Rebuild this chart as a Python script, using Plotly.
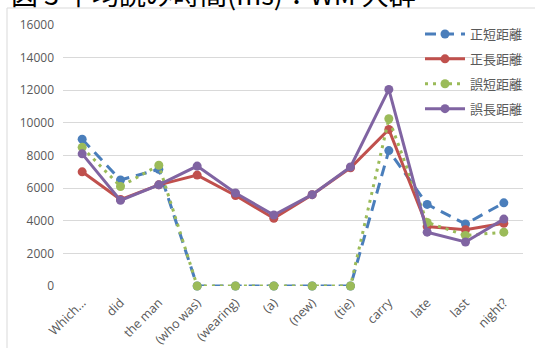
import plotly.graph_objects as go

# Reading-time data (ms) per sentence region
categories = ["Which...", "did", "the man", "(who was)", "(wearing)", "(a)",
              "(new)", "(tie)", "carry", "late", "last", "night?"]
short_correct = [9000, 6500, 7150, 0, 0, 0, 0, 0, 8300, 5000, 3800, 5100]
long_correct = [7000, 5300, 6200, 6800, 5550, 4150, 5600, 7250, 9600, 3650, 3450, 3850]
short_error = [8500, 6100, 7400, 0, 0, 0, 0, 0, 10250, 3900, 3100, 3300]
long_error = [8100, 5250, 6200, 7350, 5700, 4350, 5600, 7300, 12050, 3300, 2700, 4100]

series_names = ["正短距離", "正長距離", "誤短距離", "誤長距離"]
series_values = [short_correct, long_correct, short_error, long_error]
series_colors = ["#4a7ebb", "#c0504d", "#9bbb59", "#8064a2"]
series_dash = ["11px,7px", "solid", "3px,5px", "solid"]

W, H = 535, 348
ML, MR, MT, MB = 63, 12, 25, 62
PW, PH = W - ML - MR, H - MT - MB


def px_x(p):
    return (p - ML) / PW


def px_y(p):
    return (H - MB - p) / PH


fig = go.Figure()
for i, (name, vals, col, dash) in enumerate(zip(series_names, series_values,
                                                 series_colors, series_dash)):
    fig.add_trace(go.Scatter(
        x=categories, y=vals, name=name, mode="lines+markers",
        line=dict(color=col, width=3, dash=dash),
        marker=dict(color=col, size=9, symbol="circle"),
        cliponaxis=False, legendgroup=f"g{i}",
    ))

fig.update_layout(
    width=W, height=H,
    margin=dict(l=ML, r=MR, t=MT, b=MB, autoexpand=False),
    paper_bgcolor="white", plot_bgcolor="white",
    showlegend=True,
    legend=dict(
        x=px_x(420), y=px_y(19), xanchor="left", yanchor="top",
        bgcolor="rgba(0,0,0,0)", traceorder="grouped", tracegroupgap=5,
        itemwidth=40,
        font=dict(family="Noto Sans CJK JP", size=13, color="#595959"),
    ),
    xaxis=dict(
        type="category", range=[-0.5, len(categories) - 0.5],
        showgrid=False, showline=False, zeroline=False, ticks="",
        tickangle=-45, automargin=False, ticklabelstandoff=6,
        tickfont=dict(family="Open Sans", size=12.5, color="#595959"),
    ),
    yaxis=dict(
        range=[0, 16000], dtick=2000, tickformat="d",
        showgrid=True, gridcolor="#d9d9d9", gridwidth=1,
        zeroline=False, showline=False, ticks="", automargin=False,
        ticklabelstandoff=8,
        tickfont=dict(family="Open Sans", size=12, color="#595959"),
    ),
    shapes=[dict(
        type="rect", xref="paper", yref="paper",
        x0=px_x(7), x1=px_x(545), y0=px_y(360), y1=px_y(8),
        line=dict(color="#d9d9d9", width=1), layer="below",
    )],
    annotations=[dict(
        text="図 3 平均読み時間(ms)：WM 大群",
        xref="paper", yref="paper", x=px_x(9), y=px_y(-7),
        xanchor="left", yanchor="middle", showarrow=False,
        font=dict(family="Noto Sans CJK JP", size=27, color="black"),
    )],
)

fig.write_html("out.html")
